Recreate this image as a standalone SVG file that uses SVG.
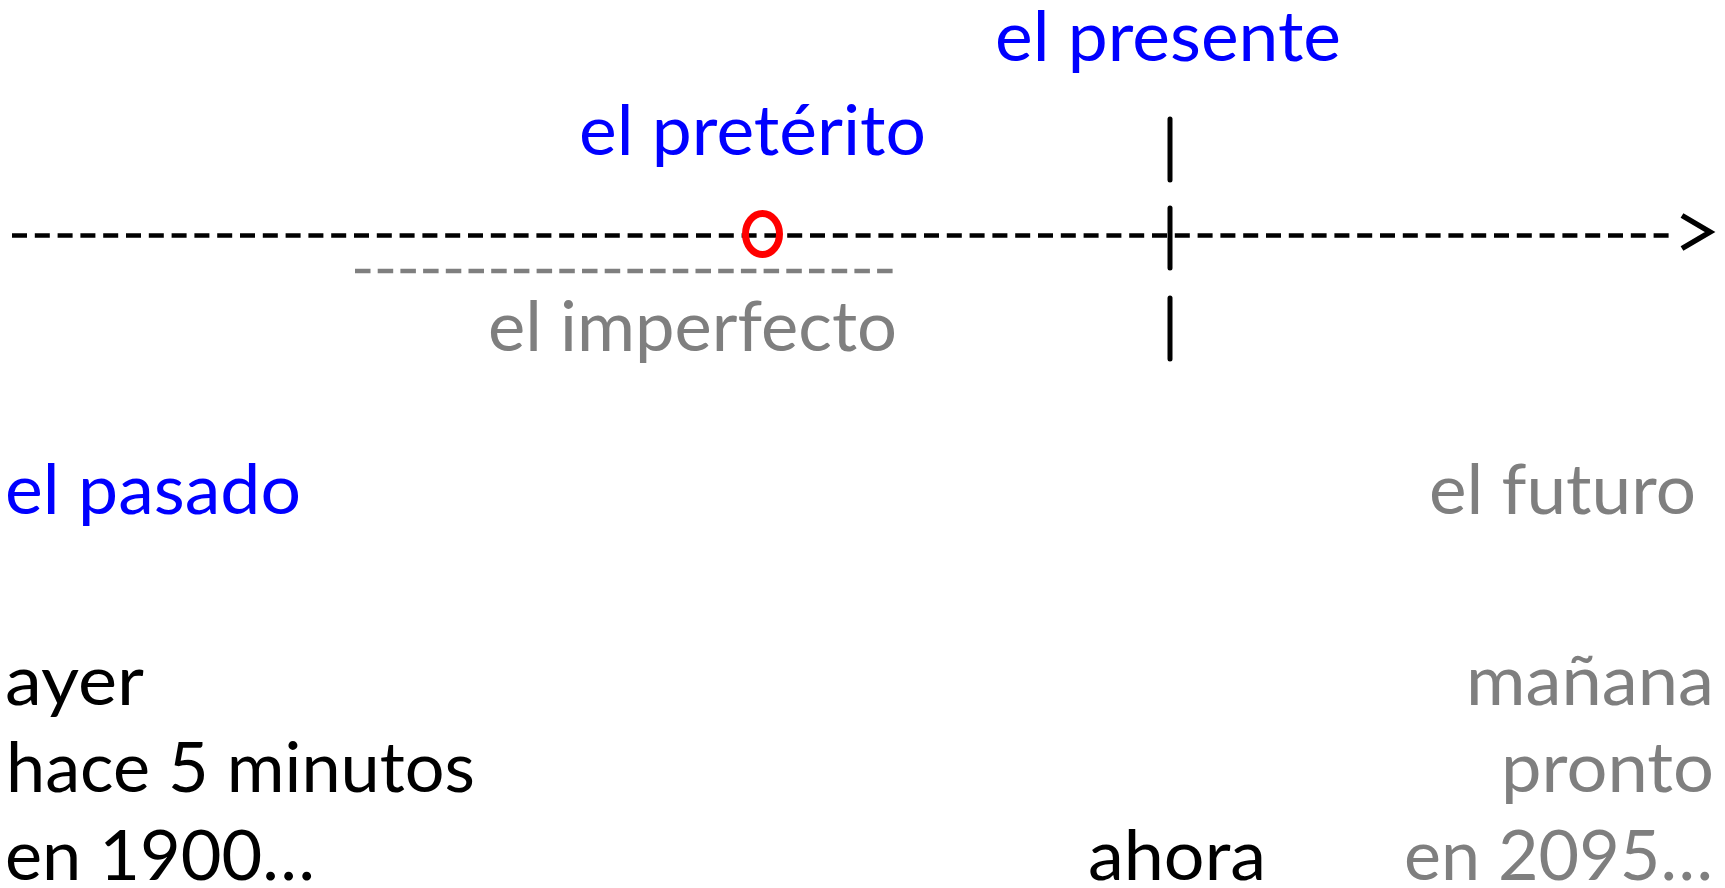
<svg xmlns="http://www.w3.org/2000/svg" width="1725" height="888" viewBox="0 0 1725 888">
<style>
text{font-family:Lato,"Noto Sans","DejaVu Sans",sans-serif;font-size:69px}
.blue{fill:#0000FF}
.gray{fill:#7F7F7F}
.black{fill:#000000}
.dash{fill:none;stroke-width:4.5;stroke-dasharray:15 7.8}
.bar{stroke:#000;stroke-width:5;stroke-linecap:round}
</style>
<rect width="1725" height="888" fill="#FFFFFF"/>
<g id="connectors">
  <line id="timeline" class="dash" x1="12" y1="235.5" x2="1676" y2="235.5" stroke="#000000"/>
  <polyline id="arrowhead" points="1682,215.5 1710,232 1682,248.5" fill="none" stroke="#000000" stroke-width="5.5"/>
  <line id="imperfect-span" class="dash" x1="355" y1="271" x2="894" y2="271" stroke="#7F7F7F" style="stroke-dasharray:15.5 7.2"/>
  <line class="bar" x1="1170" y1="119" x2="1170" y2="180"/>
  <line class="bar" x1="1170" y1="208" x2="1170" y2="268"/>
  <line class="bar" x1="1170" y1="298" x2="1170" y2="359"/>
  <ellipse id="point-event" cx="762.5" cy="234" rx="17" ry="20.5" fill="none" stroke="#FF0000" stroke-width="7"/>
</g>
<g id="node-presente"><text class="blue" x="995" y="61" textLength="346" lengthAdjust="spacingAndGlyphs">el presente</text></g>
<g id="node-preterito"><text class="blue" x="579" y="155" textLength="347" lengthAdjust="spacingAndGlyphs">el pretérito</text></g>
<g id="node-imperfecto"><text class="gray" x="488" y="351" textLength="409" lengthAdjust="spacingAndGlyphs">el imperfecto</text></g>
<g id="node-pasado"><text class="blue" x="5" y="514" textLength="296" lengthAdjust="spacingAndGlyphs">el pasado</text></g>
<g id="node-futuro"><text class="gray" x="1429" y="514" textLength="267" lengthAdjust="spacingAndGlyphs">el futuro</text></g>
<g id="node-pasado-ejemplos">
  <text class="black" x="5" y="705" textLength="139" lengthAdjust="spacingAndGlyphs">ayer</text>
  <text class="black" x="6" y="792" textLength="469" lengthAdjust="spacingAndGlyphs">hace 5 minutos</text>
  <text class="black" x="5" y="880" textLength="310" lengthAdjust="spacingAndGlyphs">en 1900…</text>
</g>
<g id="node-ahora"><text class="black" x="1088" y="880" textLength="178" lengthAdjust="spacingAndGlyphs">ahora</text></g>
<g id="node-futuro-ejemplos">
  <text class="gray" x="1466" y="705" textLength="248" lengthAdjust="spacingAndGlyphs">mañana</text>
  <text class="gray" x="1501" y="792" textLength="213" lengthAdjust="spacingAndGlyphs">pronto</text>
  <text class="gray" x="1404" y="880" textLength="309" lengthAdjust="spacingAndGlyphs">en 2095…</text>
</g>
</svg>
